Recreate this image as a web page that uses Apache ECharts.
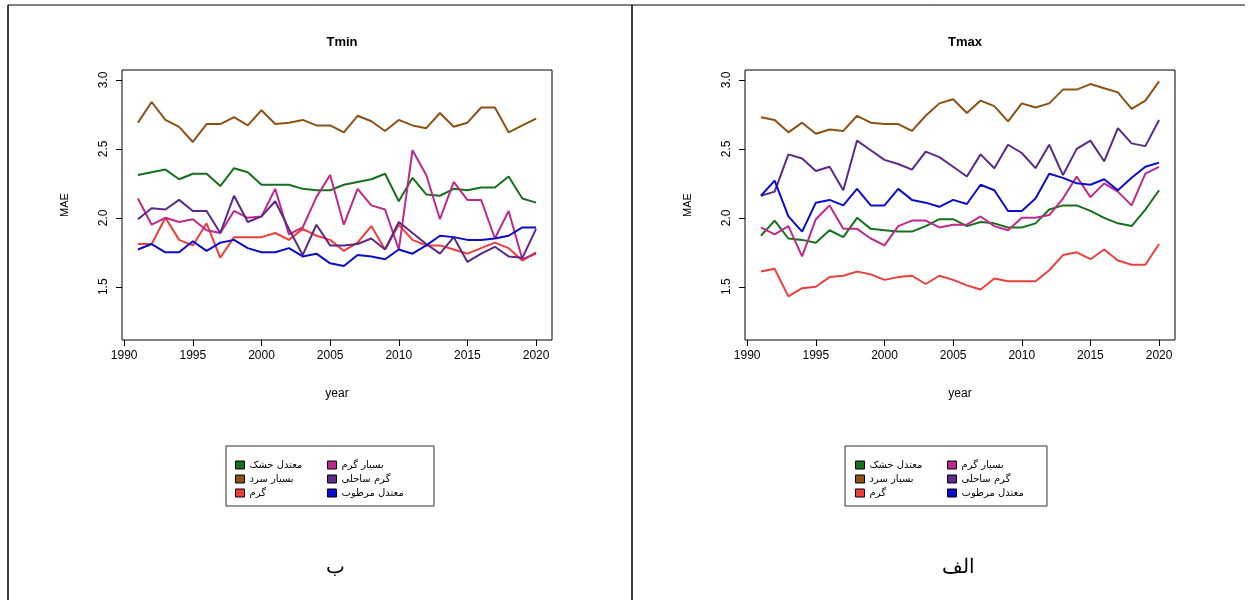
<!DOCTYPE html>
<html>
<head>
<meta charset="utf-8">
<script src="https://cdn.jsdelivr.net/npm/echarts@6/dist/echarts.min.js"></script>
<style>
  html, body { margin: 0; padding: 0; background: #fff; }
  #chart { width: 1252px; height: 600px; }
</style>
</head>
<body>
<div id="chart"></div>
<script>
// years on the x axis
const years = [1991, 1992, 1993, 1994, 1995, 1996, 1997, 1998, 1999, 2000,
  2001, 2002, 2003, 2004, 2005, 2006, 2007, 2008, 2009, 2010,
  2011, 2012, 2013, 2014, 2015, 2016, 2017, 2018, 2019, 2020]
const xTicks = [1990, 1995, 2000, 2005, 2010, 2015, 2020]
const yTicks = [1.5, 2.0, 2.5, 3.0]

const seriesNames = ['معتدل خشک', 'بسیار سرد', 'گرم', 'بسیار گرم', 'گرم ساحلی', 'معتدل مرطوب']
const colors = ['#17701c', '#8b5214', '#ec3f3c', '#bd2a8c', '#5a2a86', '#0c0ccc']

// Tmin (ب)
const tminDry = [2.31, 2.33, 2.35, 2.28, 2.32, 2.32, 2.23, 2.36, 2.33, 2.24, 2.24, 2.24, 2.21, 2.20, 2.20, 2.24, 2.26, 2.28, 2.32, 2.12, 2.29, 2.17, 2.16, 2.21, 2.20, 2.22, 2.22, 2.30, 2.14, 2.11]
const tminCold = [2.69, 2.84, 2.71, 2.66, 2.55, 2.68, 2.68, 2.73, 2.67, 2.78, 2.68, 2.69, 2.71, 2.67, 2.67, 2.62, 2.74, 2.70, 2.63, 2.71, 2.67, 2.65, 2.76, 2.66, 2.69, 2.80, 2.80, 2.62, 2.67, 2.72]
const tminWarm = [1.81, 1.81, 2.00, 1.84, 1.80, 1.96, 1.71, 1.86, 1.86, 1.86, 1.89, 1.84, 1.92, 1.87, 1.84, 1.76, 1.82, 1.94, 1.77, 1.95, 1.84, 1.80, 1.80, 1.77, 1.74, 1.78, 1.82, 1.78, 1.69, 1.75]
const tminVeryWarm = [2.14, 1.95, 2.00, 1.97, 1.99, 1.91, 1.89, 2.05, 2.00, 2.01, 2.21, 1.88, 1.93, 2.15, 2.31, 1.95, 2.21, 2.09, 2.06, 1.77, 2.49, 2.31, 1.99, 2.26, 2.13, 2.13, 1.85, 2.05, 1.70, 1.74]
const tminCoastal = [1.99, 2.07, 2.06, 2.13, 2.05, 2.05, 1.89, 2.16, 1.97, 2.01, 2.12, 1.92, 1.73, 1.95, 1.80, 1.80, 1.81, 1.85, 1.77, 1.97, 1.89, 1.81, 1.74, 1.86, 1.68, 1.74, 1.79, 1.72, 1.71, 1.92]
const tminHumid = [1.77, 1.81, 1.75, 1.75, 1.83, 1.76, 1.82, 1.84, 1.78, 1.75, 1.75, 1.78, 1.72, 1.74, 1.67, 1.65, 1.73, 1.72, 1.70, 1.77, 1.74, 1.80, 1.87, 1.86, 1.84, 1.84, 1.85, 1.87, 1.93, 1.93]

// Tmax (الف)
const tmaxDry = [1.87, 1.98, 1.85, 1.84, 1.82, 1.91, 1.86, 2.00, 1.92, 1.91, 1.90, 1.90, 1.94, 1.99, 1.99, 1.94, 1.97, 1.96, 1.93, 1.93, 1.96, 2.06, 2.09, 2.09, 2.05, 2.00, 1.96, 1.94, 2.06, 2.20]
const tmaxCold = [2.73, 2.71, 2.62, 2.69, 2.61, 2.64, 2.63, 2.74, 2.69, 2.68, 2.68, 2.63, 2.74, 2.83, 2.86, 2.76, 2.85, 2.81, 2.70, 2.83, 2.80, 2.83, 2.93, 2.93, 2.97, 2.94, 2.91, 2.79, 2.85, 2.99]
const tmaxWarm = [1.61, 1.63, 1.43, 1.49, 1.50, 1.57, 1.58, 1.61, 1.59, 1.55, 1.57, 1.58, 1.52, 1.58, 1.55, 1.51, 1.48, 1.56, 1.54, 1.54, 1.54, 1.62, 1.73, 1.75, 1.70, 1.77, 1.69, 1.66, 1.66, 1.81]
const tmaxVeryWarm = [1.93, 1.88, 1.94, 1.72, 1.99, 2.09, 1.92, 1.92, 1.85, 1.80, 1.94, 1.98, 1.98, 1.93, 1.95, 1.95, 2.01, 1.94, 1.91, 2.00, 2.00, 2.02, 2.14, 2.30, 2.15, 2.25, 2.19, 2.09, 2.32, 2.37]
const tmaxCoastal = [2.16, 2.19, 2.46, 2.43, 2.34, 2.37, 2.20, 2.56, 2.49, 2.42, 2.39, 2.35, 2.48, 2.44, 2.37, 2.30, 2.46, 2.36, 2.53, 2.47, 2.36, 2.53, 2.31, 2.50, 2.56, 2.41, 2.65, 2.54, 2.52, 2.71]
const tmaxHumid = [2.16, 2.27, 2.01, 1.90, 2.11, 2.13, 2.09, 2.21, 2.09, 2.09, 2.21, 2.13, 2.11, 2.08, 2.13, 2.10, 2.24, 2.20, 2.05, 2.05, 2.14, 2.32, 2.29, 2.25, 2.24, 2.28, 2.20, 2.29, 2.37, 2.40]

const tminData = [tminDry, tminCold, tminWarm, tminVeryWarm, tminCoastal, tminHumid]
const tmaxData = [tmaxDry, tmaxCold, tmaxWarm, tmaxVeryWarm, tmaxCoastal, tmaxHumid]

const font = 'Liberation Sans, Arial, DejaVu Sans, sans-serif'
const grids = [
  { left: 122, top: 70, width: 430, height: 270 },
  { left: 745, top: 70, width: 430, height: 270 }
]

function makeXAxis(gridIndex) {
  return {
    type: 'value',
    gridIndex: gridIndex,
    min: 1989.84,
    max: 2021.16,
    name: 'year',
    nameLocation: 'middle',
    nameGap: 48,
    nameTextStyle: { color: '#000', fontSize: 12, fontFamily: font },
    splitLine: { show: false },
    axisLine: { show: false },
    axisTick: { show: true, length: 6, customValues: xTicks, lineStyle: { color: '#000' } },
    axisLabel: { customValues: xTicks, color: '#000', fontSize: 12, fontFamily: font, margin: 10, formatter: v => String(v) }
  }
}

function makeYAxis(gridIndex) {
  return {
    type: 'value',
    gridIndex: gridIndex,
    min: 1.114,
    max: 3.072,
    name: 'MAE',
    nameLocation: 'middle',
    nameGap: 52,
    nameRotate: 90,
    nameTextStyle: { color: '#000', fontSize: 11, fontFamily: font },
    splitLine: { show: false },
    axisLine: { show: false },
    axisTick: { show: true, length: 6, customValues: yTicks, lineStyle: { color: '#000' } },
    axisLabel: {
      customValues: yTicks, rotate: 90, color: '#000', fontSize: 12, fontFamily: font, margin: 12,
      formatter: v => v.toFixed(1)
    }
  }
}

const series = []
;[tminData, tmaxData].forEach((panel, p) => {
  panel.forEach((values, i) => {
    series.push({
      name: seriesNames[i],
      type: 'line',
      xAxisIndex: p,
      yAxisIndex: p,
      data: years.map((y, k) => [y, values[k]]),
      showSymbol: false,
      lineStyle: { width: 2, color: colors[i] },
      itemStyle: { color: colors[i] },
      z: 2
    })
  })
})

function makeLegend(left, names) {
  return {
    left: left,
    top: 455,
    orient: 'vertical',
    itemGap: 4,
    itemWidth: 9,
    itemHeight: 8,
    icon: 'rect',
    data: names.map(n => ({ name: n, itemStyle: { borderColor: '#000', borderWidth: 1 } })),
    textStyle: { color: '#000', fontSize: 10, fontFamily: 'DejaVu Sans, sans-serif' }
  }
}

const chart = echarts.init(document.getElementById('chart'), null, { renderer: 'canvas' })
chart.setOption({
  backgroundColor: '#fff',
  animation: false,
  title: [
    { text: 'Tmin', left: 337, top: 31, textAlign: 'center', textStyle: { fontSize: 13, fontWeight: 'bold', color: '#000', fontFamily: font } },
    { text: 'Tmax', left: 960, top: 31, textAlign: 'center', textStyle: { fontSize: 13, fontWeight: 'bold', color: '#000', fontFamily: font } }
  ],
  grid: grids.map(g => Object.assign({ show: true, borderColor: '#000', borderWidth: 1, backgroundColor: 'transparent' }, g)),
  xAxis: [makeXAxis(0), makeXAxis(1)],
  yAxis: [makeYAxis(0), makeYAxis(1)],
  legend: [
    makeLegend(230, seriesNames.slice(0, 3)),
    makeLegend(322, seriesNames.slice(3)),
    makeLegend(850, seriesNames.slice(0, 3)),
    makeLegend(942, seriesNames.slice(3))
  ],
  graphic: [
    // legend frames
    { type: 'rect', shape: { x: 226, y: 446, width: 208, height: 60 }, style: { fill: 'none', stroke: '#333', lineWidth: 1 } },
    { type: 'rect', shape: { x: 845, y: 446, width: 202, height: 60 }, style: { fill: 'none', stroke: '#333', lineWidth: 1 } },
    // page frame lines
    { type: 'line', shape: { x1: 8, y1: 5, x2: 1245, y2: 5 }, style: { stroke: '#000', lineWidth: 1 } },
    { type: 'line', shape: { x1: 8, y1: 5, x2: 8, y2: 600 }, style: { stroke: '#000', lineWidth: 1.5 } },
    { type: 'line', shape: { x1: 632, y1: 5, x2: 632, y2: 600 }, style: { stroke: '#000', lineWidth: 1.5 } },
    // panel captions
    { type: 'text', x: 335, y: 568, style: { text: 'ب', fontSize: 20, fontFamily: 'DejaVu Serif, serif', fill: '#000', align: 'center', verticalAlign: 'middle' } },
    { type: 'text', x: 958, y: 568, style: { text: 'الف', fontSize: 20, fontFamily: 'DejaVu Serif, serif', fill: '#000', align: 'center', verticalAlign: 'middle' } }
  ],
  series: series
})
</script>
</body>
</html>
